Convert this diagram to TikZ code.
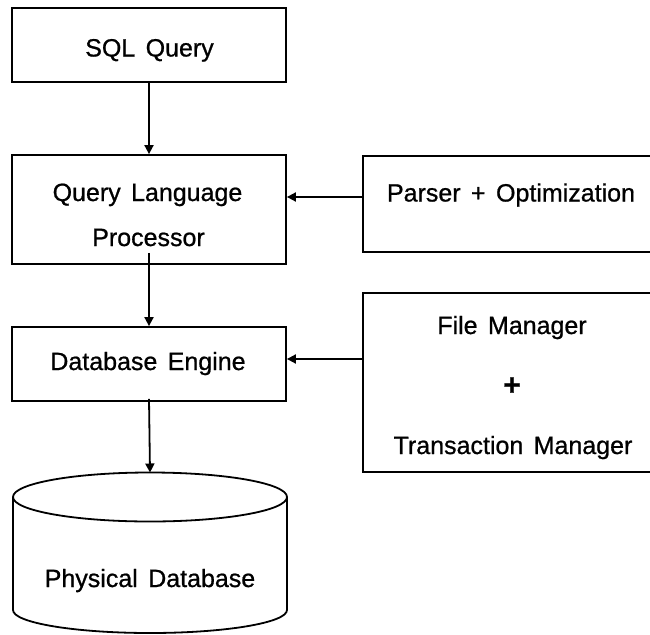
\documentclass[tikz,border=0pt]{standalone}
\usepackage{fontspec}
\setmainfont{Liberation Sans}[WordSpace=1.5,FakeBold=0.8]
\usetikzlibrary{arrows.meta}
\tikzset{
  box/.style={draw, line width=1.8pt, rectangle, inner sep=0pt, minimum width=274pt},
  lbl/.style={anchor=base, inner sep=0pt, font=\fontsize{25}{30}\selectfont},
  arr/.style={line width=1.8pt, -{Triangle[length=9pt,width=9pt]}}
}
\begin{document}
\begin{tikzpicture}[x=1pt,y=-1pt]
\useasboundingbox (0,0) rectangle (650,634);
\clip (0,0) rectangle (650,634);
% boxes
\node[box, minimum height=74pt] (sql) at (149,45) {};
\node[box, minimum height=109pt] (qlp) at (149,209.5) {};
\node[box, minimum height=74pt] (de) at (149,364) {};
\node[box, minimum width=337pt, minimum height=96pt] (parser) at (531.5,204) {};
\node[box, minimum width=337pt, minimum height=179pt] (fm) at (531.5,382.5) {};
% cylinder
\draw[line width=1.8pt, fill=white] (13,497) -- (13,610) arc[start angle=180, end angle=0, x radius=137, y radius=23] -- (287,497);
\draw[line width=1.8pt] (150,497) ellipse[x radius=137, y radius=24.5];
\coordinate (cyltop) at (150,472.5);
% texts
\node[lbl] (tsql) at (149.5,56.5) {SQL Query};
\node[lbl] (tql) at (147.5,201) {Query Language};
\node[lbl] (tproc) at (148.5,246) {Processor};
\node[lbl] (tpar) at (511,201.5) {Parser + Optimization};
\node[lbl] (tfm) at (512,334) {File Manager};
\node[lbl, font=\fontsize{30}{34}\selectfont\bfseries] (tplus) at (512,395) {+};
\node[lbl] (ttm) at (513,454) {Transaction Manager};
\node[lbl] (tde) at (148,370) {Database Engine};
\node[lbl] (tpd) at (150,587) {Physical Database};
% connectors
\draw[arr] (sql.south) -- (qlp.north);
\draw[arr] ([yshift=12pt]qlp.south) -- (de.north);
\draw[arr] ([yshift=3pt]de.south) -- (cyltop);
\coordinate (pa) at ([yshift=7pt]parser.west);
\draw[arr] (pa) -- (pa -| qlp.east);
\coordinate (fa) at ([yshift=23.5pt]fm.west);
\draw[arr] (fa) -- (fa -| de.east);
\end{tikzpicture}
\end{document}
